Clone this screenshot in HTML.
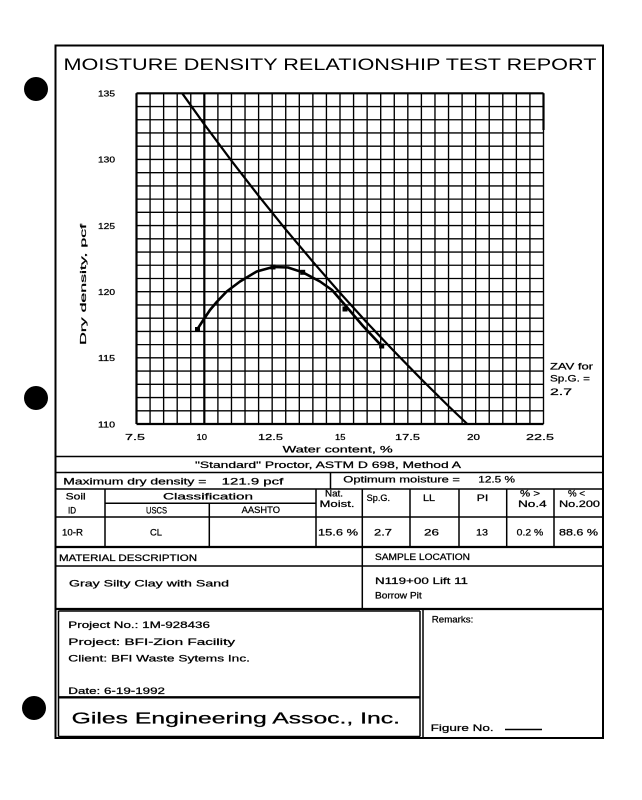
<!DOCTYPE html>
<html>
<head>
<meta charset="utf-8">
<style>
html,body{margin:0;padding:0;background:#fff;}
svg{display:block;}
text{font-family:"Liberation Sans",sans-serif;fill:#000;}
.s text, text.s{stroke:#000;stroke-width:0.25;}
</style>
</head>
<body>
<svg width="642" height="800" viewBox="0 0 642 800" xmlns="http://www.w3.org/2000/svg">
<rect x="0" y="0" width="642" height="800" fill="#fff"/>

<!-- binder holes -->
<circle cx="36" cy="89" r="12" fill="#000"/>
<circle cx="36" cy="398" r="12" fill="#000"/>
<circle cx="34" cy="708" r="12" fill="#000"/>

<!-- outer frame -->
<rect x="55.5" y="45.5" width="547.5" height="692.5" fill="none" stroke="#000" stroke-width="2"/>

<!-- title -->
<text x="63.5" y="70" font-size="16.5" textLength="533" lengthAdjust="spacingAndGlyphs">MOISTURE DENSITY RELATIONSHIP TEST REPORT</text>

<!-- grid -->
<g stroke="#000" stroke-width="1.35" fill="none">
<path d="M136.5 93.3V424 M150.07 93.3V424 M163.63 93.3V424 M177.2 93.3V424 M190.77 93.3V424 M204.33 93.3V424 M217.9 93.3V424 M231.47 93.3V424 M245.03 93.3V424 M258.6 93.3V424 M272.17 93.3V424 M285.73 93.3V424 M299.3 93.3V424 M312.87 93.3V424 M326.43 93.3V424 M340 93.3V424 M353.57 93.3V424 M367.13 93.3V424 M380.7 93.3V424 M394.27 93.3V424 M407.83 93.3V424 M421.4 93.3V424 M434.97 93.3V424 M448.53 93.3V424 M462.1 93.3V424 M475.67 93.3V424 M489.23 93.3V424 M502.8 93.3V424 M516.37 93.3V424 M529.93 93.3V424 M543.5 93.3V424"/>
<path d="M136.5 93.3H543.5 M136.5 106.53H543.5 M136.5 119.76H543.5 M136.5 132.98H543.5 M136.5 146.21H543.5 M136.5 159.44H543.5 M136.5 172.67H543.5 M136.5 185.9H543.5 M136.5 199.12H543.5 M136.5 212.35H543.5 M136.5 225.58H543.5 M136.5 238.81H543.5 M136.5 252.04H543.5 M136.5 265.26H543.5 M136.5 278.49H543.5 M136.5 291.72H543.5 M136.5 304.95H543.5 M136.5 318.18H543.5 M136.5 331.4H543.5 M136.5 344.63H543.5 M136.5 357.86H543.5 M136.5 371.09H543.5 M136.5 384.32H543.5 M136.5 397.54H543.5 M136.5 410.77H543.5 M136.5 424H543.5"/>
</g>
<g stroke="#000" stroke-width="2.2">
<path d="M204.33 93.3V424 M136.5 93.3H543.5 M136.5 424H543.5 M136.5 93.3V424 M543.5 93.3V130"/>
</g>

<!-- ZAV curve -->
<polyline fill="none" stroke="#000" stroke-width="2.2" stroke-linejoin="round"
points="182.2,93.3 204.3,124.3 231.5,160.8 258.6,195.8 285.7,229.4 312.9,261.8 340,292.9 367.1,322.8 394.3,351.5 421.4,379.3 448.5,406.1 467.3,424"/>

<!-- compaction curve -->
<polyline fill="none" stroke="#000" stroke-width="2.6" stroke-linejoin="round" stroke-linecap="round"
points="197.3,329.3 203.3,320 210,310 216.7,302 226.7,291.5 240,281.5 256.7,271.5 273,267 288,267.5 302.7,272.3 320,281.5 332,290 345,305 363,326 381.7,346"/>
<g fill="#000">
<rect x="195" y="327" width="5" height="5"/>
<rect x="270.5" y="264.5" width="5" height="5"/>
<rect x="300.2" y="269.8" width="5" height="5"/>
<rect x="342.5" y="306.5" width="5" height="5"/>
<rect x="379.2" y="343.5" width="5" height="5"/>
</g>

<g class="s">
<!-- y tick labels -->
<g font-size="7.8">
<text x="98" y="96.5" textLength="17" lengthAdjust="spacingAndGlyphs">135</text>
<text x="98" y="162.6" textLength="17" lengthAdjust="spacingAndGlyphs">130</text>
<text x="98" y="228.8" textLength="17" lengthAdjust="spacingAndGlyphs">125</text>
<text x="98" y="295" textLength="17" lengthAdjust="spacingAndGlyphs">120</text>
<text x="98" y="361.1" textLength="17" lengthAdjust="spacingAndGlyphs">115</text>
<text x="98" y="427.5" textLength="17" lengthAdjust="spacingAndGlyphs">110</text>
</g>
<!-- x tick labels -->
<g font-size="8.5">
<text x="125" y="440" textLength="20" lengthAdjust="spacingAndGlyphs">7.5</text>
<text x="196.5" y="440" textLength="10.5" lengthAdjust="spacingAndGlyphs">10</text>
<text x="258" y="440" textLength="25" lengthAdjust="spacingAndGlyphs">12.5</text>
<text x="335" y="440" textLength="10.5" lengthAdjust="spacingAndGlyphs">15</text>
<text x="395" y="440" textLength="25" lengthAdjust="spacingAndGlyphs">17.5</text>
<text x="467" y="440" textLength="13" lengthAdjust="spacingAndGlyphs">20</text>
<text x="526" y="440" textLength="28" lengthAdjust="spacingAndGlyphs">22.5</text>
</g>
<text x="282.7" y="452.3" font-size="9" textLength="110" lengthAdjust="spacingAndGlyphs">Water content,  %</text>
<text transform="translate(86,284.5) rotate(-90)" x="0" y="0" font-size="8.5" text-anchor="middle" textLength="121" lengthAdjust="spacingAndGlyphs">Dry density,  pcf</text>

<!-- ZAV label -->
<g font-size="9">
<text x="550" y="369.3" textLength="43" lengthAdjust="spacingAndGlyphs">ZAV for</text>
<text x="550" y="381.6" textLength="40" lengthAdjust="spacingAndGlyphs">Sp.G. =</text>
<text x="550" y="395" textLength="22" lengthAdjust="spacingAndGlyphs">2.7</text>
</g>
</g>

<!-- table lines -->
<g stroke="#000" stroke-width="1.5" fill="none">
<path d="M55.5 456.5H603 M55.5 472.5H603 M55.5 489H603 M330.5 472.5V489"/>
<path d="M105 503.3H316 M55.5 517H603"/>
<path d="M105 489V547 M316 489V547 M362.3 489V547 M410 489V547 M459 489V547 M506.7 489V547 M554 489V547 M209.3 503.3V547"/>
<path d="M55.5 566H603 M362.3 547V609"/>
<path d="M58.5 611V736.5 M58.5 611H420 M420 611V736.5 M423 609V738 M58.5 736.5H420"/>
</g>
<g stroke="#000" stroke-width="2.3" fill="none">
<path d="M55.5 547H603 M55.5 609H603 M58.5 697.3H420"/>
</g>

<!-- table text -->
<g font-size="9" class="s">
<text x="195" y="468" textLength="266" lengthAdjust="spacingAndGlyphs">"Standard" Proctor,  ASTM D 698, Method A</text>
<text x="63.3" y="484.3" textLength="143" lengthAdjust="spacingAndGlyphs">Maximum dry density =</text>
<text x="221.7" y="484.3" textLength="61.6" lengthAdjust="spacingAndGlyphs">121.9 pcf</text>
<text x="343.3" y="482.5" textLength="116.7" lengthAdjust="spacingAndGlyphs">Optimum moisture =</text>
<text x="478.3" y="482.5" textLength="36.7" lengthAdjust="spacingAndGlyphs">12.5 %</text>

<text x="65.7" y="499.5" textLength="20" lengthAdjust="spacingAndGlyphs">Soil</text>
<text x="68" y="513.5" textLength="8" lengthAdjust="spacingAndGlyphs">ID</text>
<text x="163" y="499.5" textLength="90" lengthAdjust="spacingAndGlyphs">Classification</text>
<text x="146" y="513.3" textLength="21" lengthAdjust="spacingAndGlyphs">USCS</text>
<text x="241.7" y="513" textLength="38.3" lengthAdjust="spacingAndGlyphs">AASHTO</text>
<text x="325" y="496.5" textLength="18" lengthAdjust="spacingAndGlyphs">Nat.</text>
<text x="319.5" y="507" textLength="35" lengthAdjust="spacingAndGlyphs">Moist.</text>
<text x="366.7" y="501" textLength="23.3" lengthAdjust="spacingAndGlyphs">Sp.G.</text>
<text x="423" y="501" textLength="12" lengthAdjust="spacingAndGlyphs">LL</text>
<text x="476.7" y="501" textLength="11.6" lengthAdjust="spacingAndGlyphs">PI</text>
<text x="520" y="496.5" textLength="20" lengthAdjust="spacingAndGlyphs">% &gt;</text>
<text x="518" y="507" textLength="28.7" lengthAdjust="spacingAndGlyphs">No.4</text>
<text x="568" y="496.5" textLength="17" lengthAdjust="spacingAndGlyphs">% &lt;</text>
<text x="559" y="507" textLength="41" lengthAdjust="spacingAndGlyphs">No.200</text>

<text x="62" y="535.5" textLength="21" lengthAdjust="spacingAndGlyphs">10-R</text>
<text x="150" y="535.5" textLength="12" lengthAdjust="spacingAndGlyphs">CL</text>
<text x="318" y="535.5" textLength="40" lengthAdjust="spacingAndGlyphs">15.6 %</text>
<text x="374" y="535.5" textLength="18" lengthAdjust="spacingAndGlyphs">2.7</text>
<text x="424" y="535.5" textLength="15" lengthAdjust="spacingAndGlyphs">26</text>
<text x="476" y="535.5" textLength="12" lengthAdjust="spacingAndGlyphs">13</text>
<text x="516.7" y="535.5" textLength="26.6" lengthAdjust="spacingAndGlyphs">0.2 %</text>
<text x="559" y="535.5" textLength="39" lengthAdjust="spacingAndGlyphs">88.6 %</text>

<text x="59" y="561.2" textLength="138" lengthAdjust="spacingAndGlyphs">MATERIAL DESCRIPTION</text>
<text x="375" y="560" textLength="95" lengthAdjust="spacingAndGlyphs">SAMPLE LOCATION</text>
<text x="69" y="586.3" textLength="160" lengthAdjust="spacingAndGlyphs">Gray Silty Clay with Sand</text>
<text x="375" y="584.2" textLength="93" lengthAdjust="spacingAndGlyphs">N119+00 Lift 11</text>
<text x="375" y="598.3" textLength="46.7" lengthAdjust="spacingAndGlyphs">Borrow Pit</text>

<text x="68.3" y="628.2" textLength="141.7" lengthAdjust="spacingAndGlyphs">Project No.: 1M-928436</text>
<text x="68.3" y="645" textLength="166.7" lengthAdjust="spacingAndGlyphs">Project: BFI-Zion Facility</text>
<text x="68.3" y="661.6" textLength="181.7" lengthAdjust="spacingAndGlyphs">Client: BFI Waste Sytems Inc.</text>
<text x="68.3" y="694" textLength="96.7" lengthAdjust="spacingAndGlyphs">Date: 6-19-1992</text>

<text x="431.8" y="622.5" textLength="41.5" lengthAdjust="spacingAndGlyphs">Remarks:</text>
<text x="430.7" y="731" textLength="63" lengthAdjust="spacingAndGlyphs">Figure No.</text>
</g>
<line x1="505" y1="729.5" x2="542" y2="729.5" stroke="#000" stroke-width="1.5"/>

<text class="s" x="71.7" y="723.5" font-size="16" textLength="328.3" lengthAdjust="spacingAndGlyphs">Giles Engineering Assoc., Inc.</text>
</svg>
</body>
</html>
